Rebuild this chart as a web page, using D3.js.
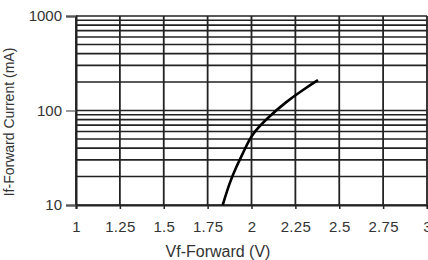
<!DOCTYPE html>
<meta charset="utf-8">
<script src="https://d3js.org/d3.v7.min.js"></script>
<style>
  body { margin: 0; background: #fff; }
  text { font-family: "Liberation Sans", Arial, sans-serif; fill: #333; }
</style>
<svg id="chart" width="428" height="260"></svg>
<script>
    // x ticks (V)
    var vfTicks = [1, 1.25, 1.5, 1.75, 2, 2.25, 2.5, 2.75, 3];
    var vfLabels = ["1", "1.25", "1.5", "1.75", "2", "2.25", "2.5", "2.75", "3"];
    // y ticks (mA)
    var ifTicks = [10, 100, 1000];
    var ifGrid = [10, 20, 30, 40, 50, 60, 70, 80, 90, 100, 200, 300, 400, 500, 600, 700, 800, 900, 1000];
    // curve
    var vf = [1.836, 1.874, 1.913, 1.96, 2.0, 2.093, 2.198, 2.293, 2.379];
    var current = [10, 17, 25.4, 38, 56, 84, 124, 165, 210];

    var svg = d3.select("#chart");

    var x = d3.scaleLinear().domain([1, 3]).range([76, 427]);
    var y = d3.scaleLog().domain([10, 1000]).range([205, 16]);

    // horizontal grid
    svg.append("g")
      .selectAll("line")
      .data(ifGrid)
      .enter()
      .append("line")
        .attr("x1", x(1)).attr("x2", x(3))
        .attr("y1", function(d){ return y(d) })
        .attr("y2", function(d){ return y(d) })
        .attr("stroke", "#222")
        .attr("stroke-width", 1.6)

    // vertical grid
    svg.append("g")
      .selectAll("line")
      .data(vfTicks)
      .enter()
      .append("line")
        .attr("x1", function(d){ return x(d) })
        .attr("x2", function(d){ return x(d) })
        .attr("y1", y(1000)).attr("y2", y(10))
        .attr("stroke", "#222")
        .attr("stroke-width", 1.8)

    // axes
    var xAxis = svg.append("g")
        .attr("transform", "translate(0," + y(10) + ")")
        .call(d3.axisBottom(x).tickValues(vfTicks)
              .tickFormat(function(d, i){ return vfLabels[i] })
              .tickSize(4).tickPadding(12))
    xAxis.select(".domain").attr("stroke", "#222").attr("stroke-width", 2)
    xAxis.selectAll(".tick line").attr("stroke", "#222").attr("stroke-width", 1.5)
    xAxis.selectAll("text").style("font-size", "15px").attr("fill", "#333")
        .style("letter-spacing", "0.3px")

    var yAxis = svg.append("g")
        .attr("transform", "translate(" + x(1) + ",0)")
        .call(d3.axisLeft(y).tickValues(ifTicks)
              .tickFormat(d3.format("d"))
              .tickSize(10).tickPadding(4))
    yAxis.select(".domain").attr("stroke", "#222").attr("stroke-width", 2)
    yAxis.selectAll(".tick line").attr("stroke", "#555").attr("stroke-width", 1.2)
    yAxis.selectAll("text").style("font-size", "15px").attr("fill", "#333")

    // curve
    var pts = vf.map(function(v, i){ return [v, current[i]] });
    svg.append("path")
        .datum(pts)
        .attr("fill", "none")
        .attr("stroke", "#000")
        .attr("stroke-width", 2.6)
        .attr("d", d3.line()
            .x(function(d){ return x(d[0]) })
            .y(function(d){ return y(d[1]) })
            .curve(d3.curveBasis))

    // titles
    svg.append("text")
        .attr("x", 218).attr("y", 257)
        .attr("text-anchor", "middle")
        .style("font-size", "16px")
        .text("Vf-Forward (V)")

    svg.append("text")
        .attr("transform", "translate(14,122) rotate(-90)")
        .attr("text-anchor", "middle")
        .style("font-size", "14px")
        .text("If-Forward Current (mA)")
</script>
